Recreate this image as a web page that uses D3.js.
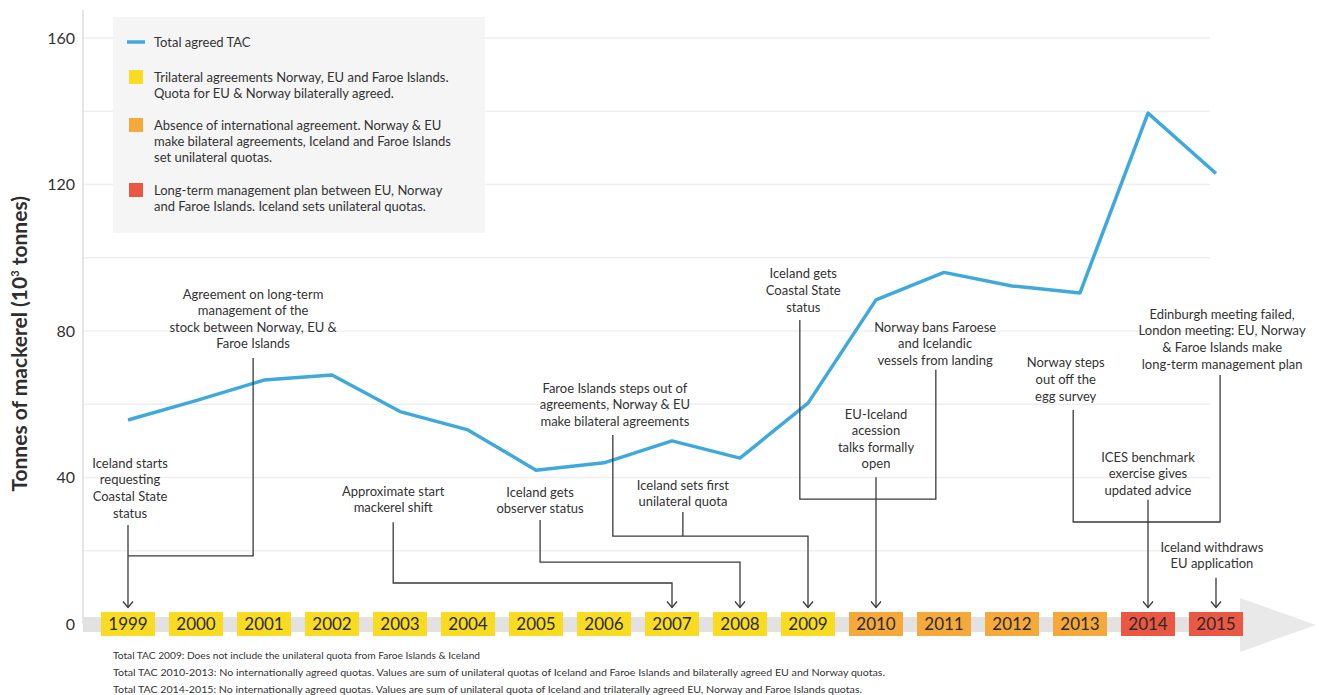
<!DOCTYPE html>
<html>
<head>
<meta charset="utf-8">
<script src="https://cdn.jsdelivr.net/npm/d3@7"></script>
<style>
	body { margin:0; background:#fff; }
	svg text { font-family: Lato, "Open Sans", sans-serif; fill:#333; }
</style>
</head>
<body>
<div id="chart"></div>
<script>

const years = [1999,2000,2001,2002,2003,2004,2005,2006,2007,2008,2009,2010,2011,2012,2013,2014,2015];
const tac = [55.7,61,66.6,68,58,53,42,44,50,45.3,60.3,88.5,96,92.3,90.4,139.5,123];
const period = ["tri","tri","tri","tri","tri","tri","tri","tri","tri","tri","tri","none","none","none","none","ltmp","ltmp"];
const yTicks = [0,40,80,120,160];
const yGrid = [20,40,60,80,100,120,140,160];

const periodColors = {tri:"#f9db22", none:"#f6a93b", ltmp:"#ea5843"};

const legendItems = [
	{type:"line", lines:["Total agreed TAC"]},
	{type:"tri", lines:["Trilateral agreements Norway, EU and Faroe Islands.","Quota for EU & Norway bilaterally agreed."]},
	{type:"none", lines:["Absence of international agreement. Norway & EU","make bilateral agreements, Iceland and Faroe Islands","set unilateral quotas."]},
	{type:"ltmp", lines:["Long-term management plan between EU, Norway","and Faroe Islands. Iceland sets unilateral quotas."]}
];

// annotation text blocks: x in years, y in tonnes (centre of first line)
const notes = [
	{x:1999.03, y:43.9, lines:["Iceland starts","requesting","Coastal State","status"]},
	{x:2000.84, y:90.1, lines:["Agreement on long-term","management of the","stock between Norway, EU &","Faroe Islands"]},
	{x:2002.9, y:36.3, lines:["Approximate start","mackerel shift"]},
	{x:2005.06, y:36.0, lines:["Iceland gets","observer status"]},
	{x:2006.16, y:64.4, lines:["Faroe Islands steps out of","agreements, Norway & EU","make bilateral agreements"]},
	{x:2007.16, y:37.9, lines:["Iceland sets first","unilateral quota"]},
	{x:2008.93, y:95.6, lines:["Iceland gets","Coastal State","status"]},
	{x:2010.87, y:81.1, lines:["Norway bans Faroese","and Icelandic","vessels from landing"]},
	{x:2010.0, y:57.3, lines:["EU-Iceland","acession","talks formally","open"]},
	{x:2012.79, y:71.3, lines:["Norway steps","out off the","egg survey"]},
	{x:2015.09, y:84.6, lines:["Edinburgh meeting failed,","London meeting: EU, Norway","& Faroe Islands make","long-term management plan"]},
	{x:2014.0, y:45.6, lines:["ICES benchmark","exercise gives","updated advice"]},
	{x:2014.94, y:21.0, lines:["Iceland withdraws","EU application"]}
];

// connector polylines [year, tonnes]; arrow = ends on a year box
const connectors = [
	{arrow:true, pts:[[1999,27],[1999,4.5]]},
	{arrow:false, pts:[[2000.84,72.6],[2000.84,18.6],[1999,18.6]]},
	{arrow:true, pts:[[2002.9,27.8],[2002.9,11.2],[2007,11.2],[2007,4.5]]},
	{arrow:true, pts:[[2005.06,28.4],[2005.06,16.9],[2008,16.9],[2008,4.5]]},
	{arrow:true, pts:[[2006.13,51.6],[2006.13,24],[2009,24],[2009,4.5]]},
	{arrow:false, pts:[[2007.16,30.6],[2007.16,24]]},
	{arrow:false, pts:[[2008.88,83],[2008.88,34.1],[2010.88,34.1],[2010.88,69.4]]},
	{arrow:true, pts:[[2010,40.1],[2010,4.5]]},
	{arrow:false, pts:[[2012.9,58.4],[2012.9,27.85],[2015.06,27.85],[2015.06,68]]},
	{arrow:true, pts:[[2014,33.9],[2014,4.5]]},
	{arrow:true, pts:[[2015,12.6],[2015,4.5]]}
];

const footnotes = [
	"Total TAC 2009: Does not include the unilateral quota from Faroe Islands & Iceland",
	"Total TAC 2010-2013: No internationally agreed quotas. Values are sum of unilateral quotas of Iceland and Faroe Islands and bilaterally agreed EU and Norway quotas.",
	"Total TAC 2014-2015: No internationally agreed quotas. Values are sum of unilateral quota of Iceland and trilaterally agreed EU, Norway and Faroe Islands quotas."
];
const footLengths = [367, 772, 749];

const W = 1319, H = 695;

const x = d3.scaleLinear().domain([1999,2015]).range([128,1216]);
const y = d3.scaleLinear().domain([0,160]).range([624,38]);

const svg = d3.select("#chart").append("svg")
	.attr("width", W)
	.attr("height", H);

// grid
svg.append("g").selectAll("line")
	.data(yGrid)
	.enter().append("line")
	.attr("x1", 83).attr("x2", 1210)
	.attr("y1", d => y(d)).attr("y2", d => y(d))
	.style("stroke", "#efefef")
	.style("stroke-width", 1.5);

svg.append("line")
	.attr("x1", 83).attr("x2", 83)
	.attr("y1", 10).attr("y2", y(0))
	.style("stroke", "#dcdcdc")
	.style("stroke-width", 1.5);

svg.append("g").selectAll("text")
	.data(yTicks)
	.enter().append("text")
	.attr("x", 75)
	.attr("y", d => y(d))
	.attr("dy", "0.35em")
	.attr("text-anchor", "end")
	.style("font-size", "16px")
	.text(d => d);

svg.append("text")
	.attr("transform", `translate(20,${y(76.5)}) rotate(-90)`)
	.attr("text-anchor", "middle")
	.attr("dy", "0.35em")
	.style("font-size", "21px")
	.style("font-weight", "bold")
	.style("fill", "#2e2e2e")
	.html('Tonnes of mackerel (10<tspan dy="-8" style="font-size:11px">3</tspan><tspan dy="8"> tonnes)</tspan>');

// legend
const lg = svg.append("g");
lg.append("rect")
	.attr("x", 113).attr("y", 17)
	.attr("width", 372).attr("height", 216)
	.style("fill", "#f5f5f5");

const legendTops = [42, 77, 125, 190];
legendItems.forEach((it, i) => {
	const ty = legendTops[i];
	if (it.type === "line") {
		lg.append("line")
			.attr("x1", 127).attr("x2", 145)
			.attr("y1", ty).attr("y2", ty)
			.style("stroke", "#3fa9dd")
			.style("stroke-width", 3.5);
	} else {
		lg.append("rect")
			.attr("x", 129).attr("y", ty - 7)
			.attr("width", 14).attr("height", 14)
			.style("fill", periodColors[it.type]);
	}
	it.lines.forEach((l, j) => {
		lg.append("text")
			.attr("x", 154)
			.attr("y", ty + j * 16.3)
			.attr("dy", "0.35em")
			.style("font-size", "13px")
			.text(l);
	});
});

// timeline band
svg.append("rect")
	.attr("x", 83).attr("y", 617)
	.attr("width", 1160).attr("height", 15)
	.style("fill", "#e2e2e2");
svg.append("path")
	.attr("d", "M1240,598 L1316,625 L1240,652 Z")
	.style("fill", "#e9e9e9");

// TAC line
const line = d3.line()
	.x((d, i) => x(years[i]))
	.y(d => y(d));

svg.append("path")
	.datum(tac)
	.attr("d", line)
	.style("fill", "none")
	.style("stroke", "#3fa9dd")
	.style("stroke-width", 3.5)
	.style("stroke-linejoin", "round");

// connectors
const cLine = d3.line().x(d => x(d[0])).y(d => y(d[1]));
const cg = svg.append("g")
	.style("fill", "none")
	.style("stroke", "#3a3a3a")
	.style("stroke-width", 1.3);

connectors.forEach(c => {
	cg.append("path").attr("d", cLine(c.pts));
	if (c.arrow) {
		const e = c.pts[c.pts.length - 1];
		const ex = x(e[0]), ey = y(e[1]);
		cg.append("path").attr("d", `M${ex-5},${ey-6} L${ex},${ey} L${ex+5},${ey-6}`);
	}
});

// notes
const ng = svg.append("g");
notes.forEach(n => {
	n.lines.forEach((l, j) => {
		ng.append("text")
			.attr("x", x(n.x))
			.attr("y", y(n.y) + j * 16.6)
			.attr("dy", "0.35em")
			.attr("text-anchor", "middle")
			.style("font-size", "13px")
			.text(l);
	});
});

// year boxes
const yb = svg.append("g").selectAll("g")
	.data(years)
	.enter().append("g")
	.attr("transform", d => `translate(${x(d)},${y(0)})`);

yb.append("rect")
	.attr("x", -27).attr("y", -12)
	.attr("width", 54).attr("height", 24)
	.style("fill", (d, i) => periodColors[period[i]]);

yb.append("text")
	.attr("text-anchor", "middle")
	.attr("dy", "0.36em")
	.style("font-size", "17px")
	.style("fill", "#2b2b2b")
	.text(d => d);

// footnotes
svg.append("g").selectAll("text")
	.data(footnotes)
	.enter().append("text")
	.attr("x", 113)
	.attr("y", (d, i) => 655 + i * 17)
	.attr("dy", "0.35em")
	.attr("textLength", (d, i) => footLengths[i])
	.attr("lengthAdjust", "spacingAndGlyphs")
	.style("font-size", "10px")
	.text(d => d);

</script>
</body>
</html>
